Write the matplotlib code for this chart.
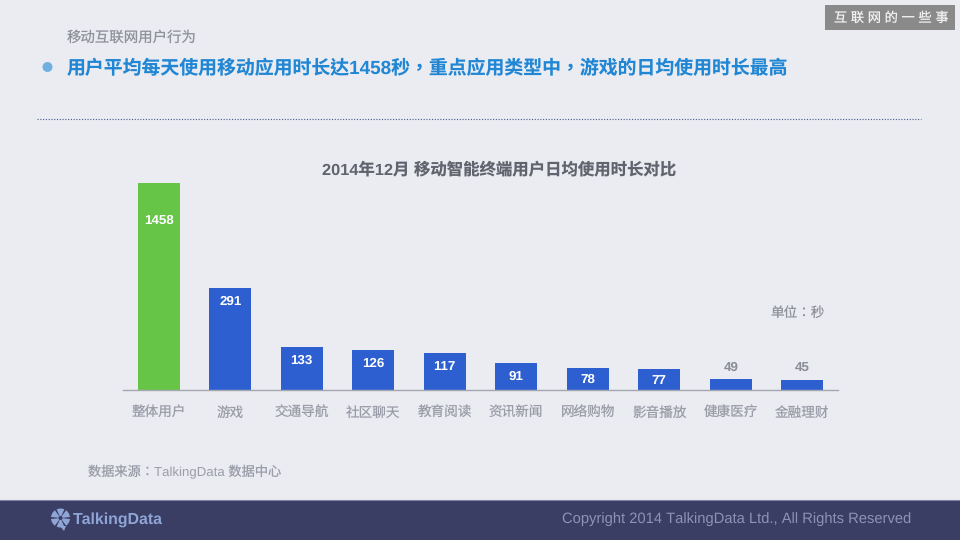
import matplotlib
matplotlib.use("Agg")
import matplotlib.pyplot as plt
from matplotlib.lines import Line2D
from matplotlib.patches import Circle, Rectangle, Wedge, Polygon

plt.rcParams["font.family"] = ["Liberation Sans", "Noto Sans CJK SC", "DejaVu Sans"]
plt.rcParams["text.hinting"] = "no_hinting"
plt.rcParams["text.kerning_factor"] = 6
# the TC cut centres its fullwidth comma and colon, as the reference does
CENTERED_PUNCT = ["Liberation Sans", "Noto Sans CJK TC", "DejaVu Sans"]

categories = ["整体用户", "游戏", "交通导航", "社区聊天", "教育阅读",
              "资讯新闻", "网络购物", "影音播放", "健康医疗", "金融理财"]
seconds = [1458, 291, 133, 126, 117, 91, 78, 77, 49, 45]
# the source chart is not to scale, so bar lengths are read off separately
drawn_heights = [206, 102, 43, 40, 37, 27, 22, 21, 11, 10]
# labels of short bars sit above the bar in gray
outside_labels = [49, 45]

BG = "#EAECF1"
FOOTER = "#3A3D64"
BLUE = "#2E5FD0"
GREEN = "#66C547"
HEAD_BLUE = "#2186D4"
GRAY = "#8F929C"
LABEL_GRAY = "#9A9DA8"
LOGO = "#8EA5D6"

W, H = 960, 540
PT_PER_PX = 0.72

fig = plt.figure(figsize=(W / 100, H / 100), dpi=100, facecolor=BG)

# page furniture is placed in pixel coordinates
page = fig.add_axes([0, 0, 1, 1])
page.set_xlim(0, W)
page.set_ylim(H, 0)
page.axis("off")

page.add_patch(Rectangle((825, 5), 130, 25, color="#8A8A8A", lw=0))
page.text(891, 18.5, "互 联 网 的 一 些 事", color="#F2F2F2", fontsize=9.5,
          ha="center", va="center")

page.text(67, 37.5, "移动互联网用户行为", color=GRAY, fontsize=10.4, va="center")
page.add_patch(Circle((47.5, 67), 5, color="#6FB0E2", lw=0))
page.text(67, 68.5, "用户平均每天使用移动应用时长达1458秒，重点应用类型中，游戏的日均使用时长最高",
          color=HEAD_BLUE, fontsize=13.6, fontweight="bold", va="center",
          family=CENTERED_PUNCT)
page.add_line(Line2D([37, 921], [119, 119], color="#4A5A8A", lw=0.8,
                     linestyle=(0, (1, 1.5))))

page.text(499, 170, "2014年12月 移动智能终端用户日均使用时长对比", color="#61646E",
          fontsize=11.8, fontweight="bold", ha="center", va="center")
page.text(798, 313, "单位：秒", color=GRAY, fontsize=9.8, ha="center", va="center",
          family=CENTERED_PUNCT)
page.text(88, 471.5, "数据来源：TalkingData 数据中心", color=LABEL_GRAY, fontsize=9.5, va="center",
          family=CENTERED_PUNCT)

page.add_patch(Rectangle((0, 500), W, 40, color=FOOTER, lw=0))
page.add_line(Line2D([0, W], [500, 500], color="#7F84A8", lw=0.8))
page.text(911, 519, "Copyright 2014 TalkingData Ltd., All Rights Reserved",
          color="#8D93B5", fontsize=10.6, ha="right", va="center")

# logo: a small segmented wheel with a speech tail
for start in range(0, 360, 60):
    page.add_patch(Wedge((60.5, 518), 9.5, start + 6, start + 54, width=7.5,
                         color=LOGO, lw=0))
page.add_patch(Polygon([[60, 526], [66, 526], [64, 531]], color=LOGO, lw=0))
page.text(73, 519.5, "TalkingData", color=LOGO, fontsize=11.4, fontweight="bold", va="center")

# bar chart
left, right, top, base = 123, 838, 183, 389.5
ax = fig.add_axes([left / W, 1 - base / H, (right - left) / W, (base - top) / H])
ax.patch.set_alpha(0)
x = range(len(categories))
colors = [GREEN] + [BLUE] * (len(categories) - 1)
ax.bar(x, drawn_heights, width=0.59, color=colors, linewidth=0)
ax.set_xlim(-0.5, len(categories) - 0.5)
ax.set_ylim(0, 206.5)
ax.set_xticks(list(x), categories)
ax.set_yticks([])
ax.tick_params(axis="x", length=0, pad=12.5, labelsize=9.8, labelcolor=LABEL_GRAY)
for side in ["top", "left", "right"]:
    ax.spines[side].set_visible(False)
ax.spines["bottom"].set_color("#A5A7B0")
ax.spines["bottom"].set_linewidth(1.0)

for i, (value, h) in enumerate(zip(seconds, drawn_heights)):
    if value in outside_labels:
        ax.annotate(str(value), (i, h), xytext=(0, 3.5), textcoords="offset points",
                    ha="center", va="bottom", color="#8A8D97", fontsize=9.6, fontweight="bold")
        continue
    # tall bars keep the label near the top, short ones centre it
    drop_px = 36 if i == 0 else min(13, h / 2)
    ax.annotate(str(value), (i, h), xytext=(0, -drop_px * PT_PER_PX), textcoords="offset points",
                ha="center", va="center_baseline", color="white", fontsize=9.6, fontweight="bold")

fig.savefig("out.png", dpi=100, facecolor=BG)
